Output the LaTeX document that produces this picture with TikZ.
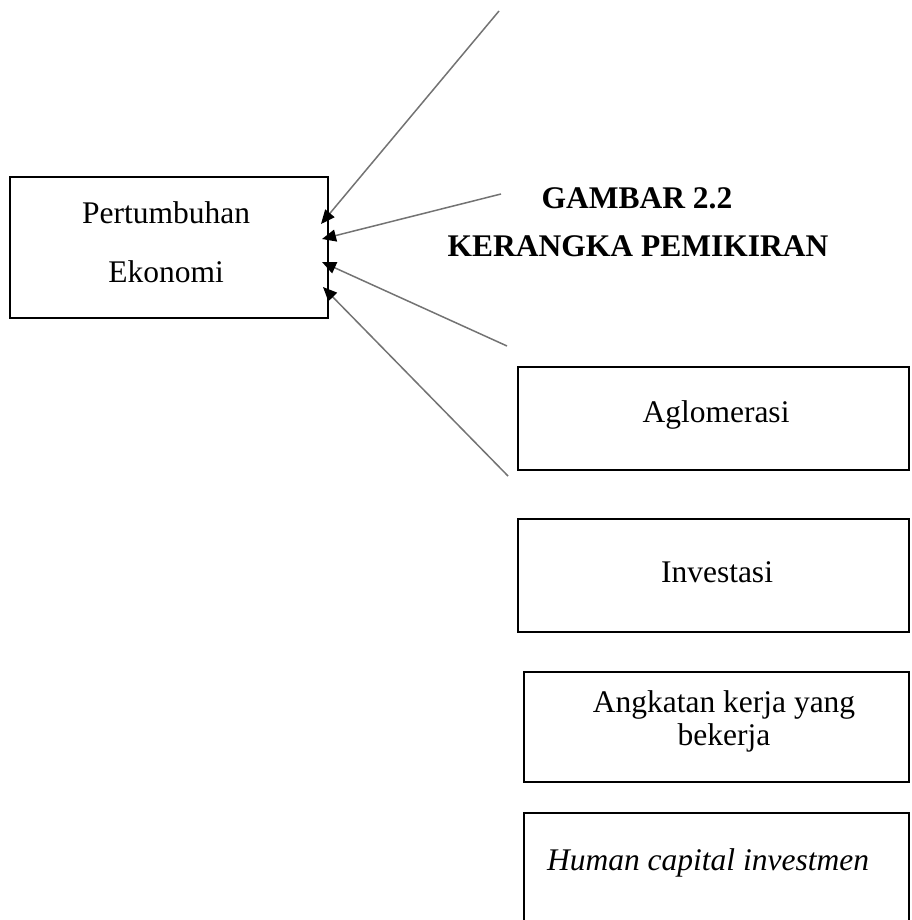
\documentclass[tikz,border=0pt]{standalone}
\usepackage{fontspec}
\setmainfont{Liberation Serif}
\usetikzlibrary{arrows.meta}
\begin{document}
\begin{tikzpicture}[x=1pt,y=-1pt,
  box/.style={draw=black,line width=2.2pt,inner sep=0pt},
  txt/.style={anchor=base,inner sep=0pt,font=\fontsize{31.5}{36}\selectfont},
  ttl/.style={anchor=base,inner sep=0pt,font=\fontsize{31.5}{36}\selectfont\bfseries},
  conn/.style={draw=black!55,line width=1.5pt,-{Triangle[length=14pt,width=12pt,color=black]}}]
\useasboundingbox (0,0) rectangle (911,920);
\clip (0,0) rectangle (911,920);
% boxes
\node[box,minimum width=318pt,minimum height=141pt] (pe) at (169,247.5) {};
\node[box,minimum width=391pt,minimum height=103pt] (ag) at (713.5,418.5) {};
\node[box,minimum width=391pt,minimum height=113pt] (iv) at (713.5,575.5) {};
\node[box,minimum width=385pt,minimum height=110pt] (ak) at (716.5,727) {};
\node[box,minimum width=385pt,minimum height=130pt] (hc) at (716.5,878) {};
% texts
\node[txt] (pe1) at (166,223) {Pertumbuhan};
\node[txt] (pe2) at (166,282) {Ekonomi};
\node[txt] (ag1) at (716,422) {Aglomerasi};
\node[txt] (iv1) at (717,582) {Investasi};
\node[txt] (ak1) at (724,712) {Angkatan kerja yang};
\node[txt] (ak2) at (724,745) {bekerja};
\node[txt,font=\fontsize{31.5}{36}\selectfont\itshape] (hc1) at (708,870) {Human capital investmen};
\node[ttl] (t1) at (637,208) {GAMBAR 2.2};
\node[ttl] (t2) at (638,256) {KERANGKA PEMIKIRAN};
% connectors
\coordinate (s1) at (499,11);
\coordinate (s2) at (501,194);
\coordinate (s3) at (507,346);
\coordinate (s4) at (508,476);
\coordinate (e1) at (321,224);
\coordinate (e2) at (322,239);
\coordinate (e3) at (322,262);
\coordinate (e4) at (323,287);
\draw[conn] (s1) -- (e1);
\draw[conn] (s2) -- (e2);
\draw[conn] (s3) -- (e3);
\draw[conn] (s4) -- (e4);
\end{tikzpicture}
\end{document}
